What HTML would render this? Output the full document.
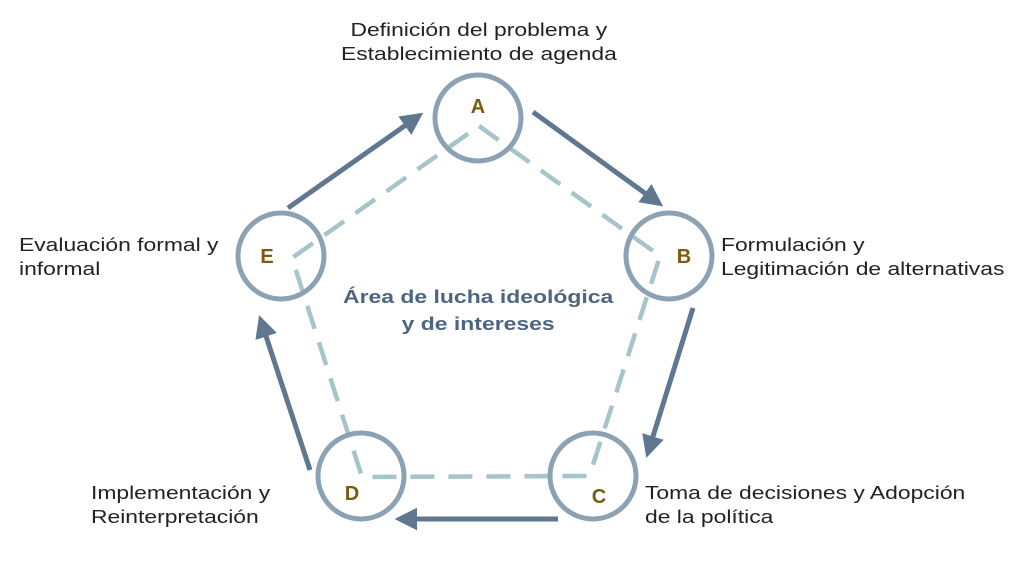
<!DOCTYPE html>
<html><head><meta charset="utf-8"><style>
body{margin:0;width:1024px;height:563px;background:#fff;overflow:hidden;font-family:"Liberation Sans",sans-serif}
.t{position:absolute;font-size:18px;color:#222;line-height:24px;white-space:nowrap;transform:scaleX(1.27);transform-origin:0 0}
</style></head><body>
<svg width="1024" height="563" style="position:absolute;left:0;top:0">
<defs><marker id="ah" markerWidth="4.5" markerHeight="4.5" refX="2" refY="2.25" orient="auto" markerUnits="strokeWidth"><path d="M0,0 L4.5,2.25 L0,4.5 z" fill="#5f7890"/></marker></defs>
<g fill="none" stroke="#a5c5cb" stroke-width="4.5" stroke-dasharray="24,14">
<path d="M479,126 L660,256 L592,468 L588,476 L362,477 L292,258 Z"/>
</g>
<g fill="none" stroke="#8ba2b5" stroke-width="5">
<circle cx="478" cy="118" r="43"/>
<circle cx="669" cy="256" r="43"/>
<circle cx="593" cy="476" r="43"/>
<circle cx="361" cy="476" r="43"/>
<circle cx="281" cy="256" r="43"/>
</g>
<g stroke="#5f7890" stroke-width="5" marker-end="url(#ah)">
<line x1="533" y1="112" x2="653" y2="199"/>
<line x1="693" y1="308" x2="650" y2="446"/>
<line x1="558" y1="519" x2="407" y2="519"/>
<line x1="310" y1="470" x2="263" y2="327"/>
<line x1="288" y1="208" x2="413" y2="120"/>
</g>
<g font-family="Liberation Sans,sans-serif" font-weight="bold" font-size="20" fill="#7a5c10" text-anchor="middle">
<text x="478" y="113">A</text><text x="684" y="263">B</text><text x="599" y="503">C</text><text x="352" y="500">D</text><text x="267" y="263">E</text>
</g>
</svg>
<div class="t" style="left:341px;top:18px;text-align:center;width:217px">Definición del problema y<br>Establecimiento de agenda</div>
<div class="t" style="left:721px;top:233px">Formulación y<br>Legitimación de alternativas</div>
<div class="t" style="left:645px;top:481px">Toma de decisiones y Adopción<br>de la política</div>
<div class="t" style="left:91px;top:481px">Implementación y<br>Reinterpretación</div>
<div class="t" style="left:19px;top:233px">Evaluación formal y<br>informal</div>
<div class="t" style="left:343px;top:283px;width:218px;text-align:center;font-weight:bold;color:#4d6580;font-size:18.5px;line-height:27px;transform:scaleX(1.24)">Área de lucha ideológica<br>y de intereses</div>
</body></html>
